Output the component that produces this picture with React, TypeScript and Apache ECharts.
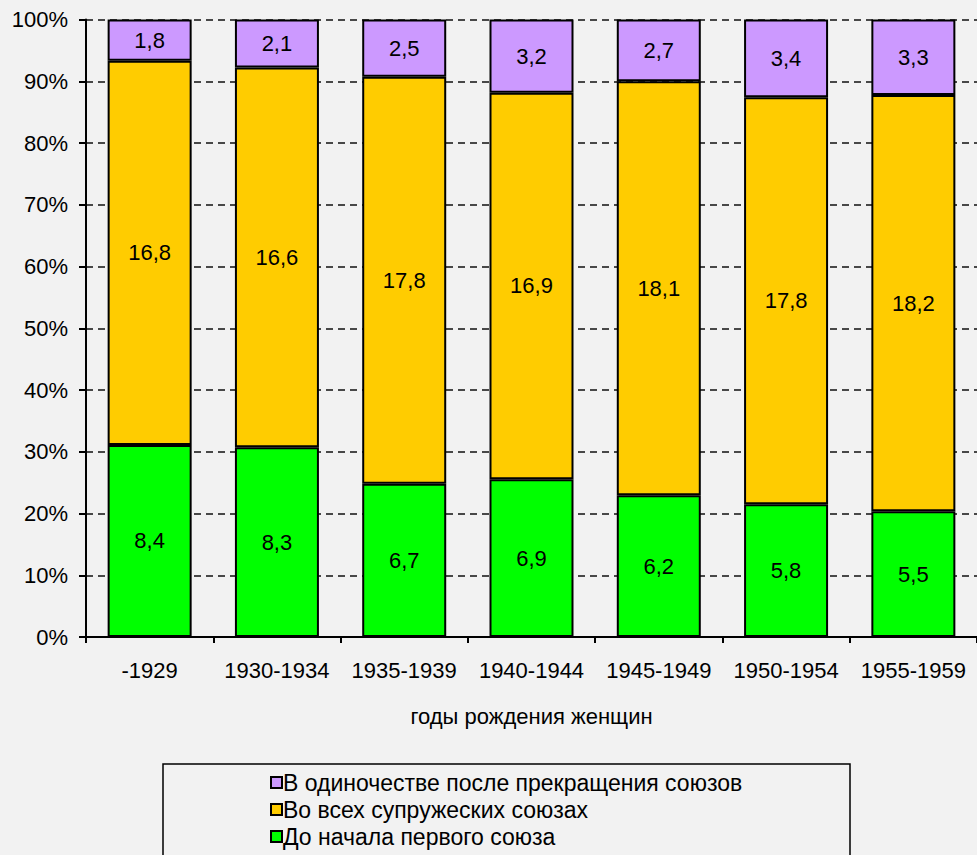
import React, { useEffect, useRef } from "react";
import * as echarts from "echarts";

const categories = ["-1929", "1930-1934", "1935-1939", "1940-1944", "1945-1949", "1950-1954", "1955-1959"];
const beforeFirst = [8.4, 8.3, 6.7, 6.9, 6.2, 5.8, 5.5];
const inUnions = [16.8, 16.6, 17.8, 16.9, 18.1, 17.8, 18.2];
const aloneAfter = [1.8, 2.1, 2.5, 3.2, 2.7, 3.4, 3.3];
const seriesNames = [
  "До начала первого союза",
  "Во всех супружеских союзах",
  "В одиночестве после прекращения союзов",
];
const yTicks = [0, 10, 20, 30, 40, 50, 60, 70, 80, 90, 100];
const xAxisTitle = "годы рождения женщин";

const FONT = "'Liberation Sans', Arial, sans-serif";

export default function App() {
  const ref = useRef<HTMLDivElement>(null);
  useEffect(() => {
    if (!ref.current) return;
    const chart = echarts.init(ref.current, null, { renderer: "svg" });
    const totals = categories.map((_, i) => beforeFirst[i] + inUnions[i] + aloneAfter[i]);
    const raw = [beforeFirst, inUnions, aloneAfter];
    const colors = ["#00ff00", "#ffcc00", "#cc99ff"];
    const series = raw.map((arr, s) => ({
      name: seriesNames[s],
      type: "bar",
      stack: "total",
      barWidth: 84,
      data: arr.map((v, i) => (v / totals[i]) * 100),
      itemStyle: { color: colors[s], borderColor: "#000", borderWidth: 2 },
      label: {
        show: true,
        position: "inside",
        color: "#000",
        fontSize: 22,
        fontFamily: FONT,
        formatter: (p: any) => String(arr[p.dataIndex].toFixed(1)).replace(".", ","),
      },
      emphasis: { disabled: true },
    }));
    chart.setOption({
      animation: false,
      backgroundColor: "#f2f2f2",
      textStyle: { fontFamily: FONT, color: "#000" },
      grid: { left: 86, width: 901, top: 19.5, height: 617.5 },
      xAxis: {
        type: "category",
        data: categories,
        axisLine: { lineStyle: { color: "#000", width: 2 } },
        axisTick: { show: true, length: 6, interval: 0, lineStyle: { color: "#000", width: 2 } },
        axisLabel: { color: "#000", fontSize: 22, fontFamily: FONT, margin: 22, interval: 0 },
        name: xAxisTitle,
        nameLocation: "middle",
        nameGap: 68,
        nameTextStyle: { color: "#000", fontSize: 22, fontFamily: FONT },
      },
      yAxis: {
        type: "value",
        min: 0,
        max: 100,
        interval: 10,
        axisLine: { show: true, lineStyle: { color: "#000", width: 2 } },
        axisTick: { show: true, length: 7, lineStyle: { color: "#000", width: 2 } },
        axisLabel: {
          color: "#000",
          fontSize: 22,
          fontFamily: FONT,
          margin: 18,
          formatter: (v: number) => (yTicks.includes(v) ? v + "%" : ""),
        },
        splitLine: { show: true, lineStyle: { color: "#111", width: 1.6, type: [7, 5] } },
      },
      legend: {
        orient: "vertical",
        left: 265,
        top: 766,
        itemWidth: 11,
        itemHeight: 11,
        itemGap: 4,
        icon: "rect",
        data: [seriesNames[2], seriesNames[1], seriesNames[0]],
        textStyle: { color: "#000", fontSize: 23, fontFamily: FONT, padding: [0, 0, 0, -4] },
        selectedMode: false,
      },
      graphic: [
        {
          type: "rect",
          shape: { x: 163, y: 764, width: 687, height: 120 },
          style: { fill: "none", stroke: "#000", lineWidth: 1.5 },
          silent: true,
        },
      ],
      series,
    });
    return () => chart.dispose();
  }, []);
  return <div ref={ref} style={{ width: 977, height: 855, position: "absolute", left: 0, top: 0 }} />;
}
